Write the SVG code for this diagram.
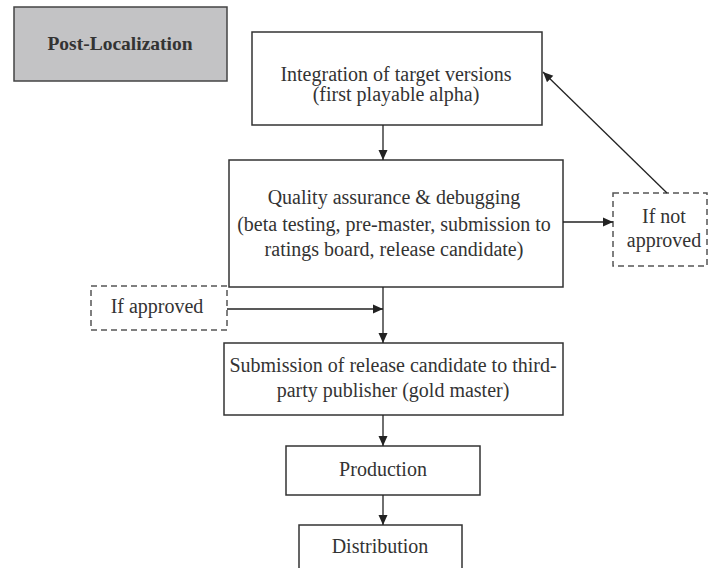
<svg xmlns="http://www.w3.org/2000/svg" width="710" height="568" viewBox="0 0 710 568">
<style>
  .box { fill: #ffffff; stroke: #333333; stroke-width: 1.5; }
  .dash { fill: #ffffff; stroke: #555555; stroke-width: 1.5; stroke-dasharray: 6 4; }
  .gray { fill: #c3c3c5; stroke: #444444; stroke-width: 1.5; }
  .t { font-family: "Liberation Serif", "Times New Roman", serif; font-size: 20px; fill: #333333; text-anchor: middle; }
  .tb { font-family: "Liberation Serif", "Times New Roman", serif; font-size: 19.5px; font-weight: bold; fill: #333333; text-anchor: middle; }
  .line { stroke: #222222; stroke-width: 1.3; fill: none; }
</style>
<defs>
  <marker id="arr" viewBox="0 0 10 10" refX="10" refY="5" markerWidth="10" markerHeight="10" markerUnits="userSpaceOnUse" orient="auto">
    <path d="M0,0.5 L10,5 L0,9.5 Z" fill="#222222"/>
  </marker>
</defs>
<rect width="710" height="568" fill="#ffffff"/>
<g id="post-localization">
  <rect class="gray" x="14" y="7" width="213" height="74"/>
  <text class="tb" x="120" y="50">Post-Localization</text>
</g>
<g id="integration">
  <rect class="box" x="252" y="32" width="290" height="93"/>
  <text class="t" x="396" y="81">Integration of target versions</text>
  <text class="t" x="396" y="101">(first playable alpha)</text>
</g>
<g id="qa">
  <rect class="box" x="229" y="160" width="334" height="127"/>
  <text class="t" x="394" y="204">Quality assurance &amp; debugging</text>
  <text class="t" x="394" y="231">(beta testing, pre-master, submission to</text>
  <text class="t" x="394" y="256">ratings board, release candidate)</text>
</g>
<g id="if-not-approved">
  <rect class="dash" x="613" y="193" width="94" height="73"/>
  <text class="t" x="664" y="223">If not</text>
  <text class="t" x="664" y="247">approved</text>
</g>
<g id="if-approved">
  <rect class="dash" x="91" y="286" width="136" height="44"/>
  <text class="t" x="157" y="313">If approved</text>
</g>
<g id="submission">
  <rect class="box" x="224" y="343" width="339" height="72"/>
  <text class="t" x="393" y="372">Submission of release candidate to third-</text>
  <text class="t" x="393" y="397">party publisher (gold master)</text>
</g>
<g id="production">
  <rect class="box" x="286" y="446" width="194" height="49"/>
  <text class="t" x="383" y="476">Production</text>
</g>
<g id="distribution">
  <rect class="box" x="299" y="525" width="163" height="60"/>
  <text class="t" x="380" y="553">Distribution</text>
</g>
<g id="connectors">
  <line class="line" x1="383" y1="125" x2="383" y2="160" marker-end="url(#arr)"/>
  <line class="line" x1="563" y1="222" x2="613" y2="222" marker-end="url(#arr)"/>
  <line class="line" x1="667" y1="193" x2="543" y2="72" marker-end="url(#arr)"/>
  <line class="line" x1="227" y1="309" x2="383" y2="309" marker-end="url(#arr)"/>
  <line class="line" x1="383" y1="287" x2="383" y2="343" marker-end="url(#arr)"/>
  <line class="line" x1="383" y1="415" x2="383" y2="446" marker-end="url(#arr)"/>
  <line class="line" x1="383" y1="495" x2="383" y2="525" marker-end="url(#arr)"/>
</g>
</svg>
